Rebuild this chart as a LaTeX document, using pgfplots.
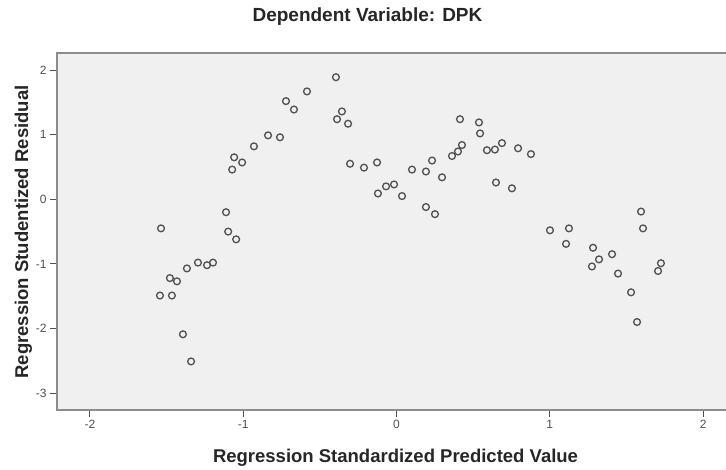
\documentclass[border=0pt]{standalone}
\usepackage{pgfplots}
\pgfplotsset{compat=1.18}
\usepackage{fontspec}
\setmainfont{Liberation Sans}
\definecolor{bg}{RGB}{240,240,240}
\definecolor{frame}{RGB}{140,140,140}
\definecolor{mk}{RGB}{80,80,80}
\definecolor{tk}{RGB}{80,80,80}
\begin{document}
\begin{tikzpicture}
\begin{axis}[
  scale only axis, width=671pt, height=357pt,
  xmin=-2.2146, xmax=2.1624, ymin=-3.262, ymax=2.265,
  axis background/.style={fill=bg},
  axis line style={draw=frame, line width=2.2pt},
  xtick={-2,-1,0,1,2}, ytick={-3,-2,-1,0,1,2},
  xtick pos=bottom, ytick pos=left,
  tick align=outside, major tick length=7pt,
  tick style={draw=tk, line width=1pt},
  tick label style={font=\fontsize{12}{14}\selectfont, text=tk},
  /pgf/number format/assume math mode=true,
  title={Dependent Variable: DPK},
  title style={at={(axis description cs:0.4627,1.070)}, anchor=base, font=\bfseries\fontsize{19}{22}\selectfont, text=black!85},
  xlabel={Regression Standardized Predicted Value},
  xlabel style={at={(axis description cs:0.5045,-0.1457)}, anchor=base, font=\bfseries\fontsize{18.5}{22}\selectfont, text=black!85},
  ylabel={Regression Studentized Residual},
  ylabel style={at={(axis description cs:-0.0432,0.4986)}, anchor=base, font=\bfseries\fontsize{18.5}{22}\selectfont, text=black!85},
]
\addplot[only marks, mark=o, mark size=3.4pt, mark options={draw=mk, line width=1.3pt}] table {
x y
-1.536 -0.45
-1.543 -1.49
-1.465 -1.49
-1.478 -1.22
-1.432 -1.27
-1.367 -1.07
-1.295 -0.98
-1.236 -1.02
-1.197 -0.98
-1.393 -2.09
-1.340 -2.51
-1.112 -0.20
-1.098 -0.50
-1.046 -0.62
-1.059 0.65
-1.072 0.46
-1.007 0.57
-0.930 0.82
-0.838 0.99
-0.760 0.96
-0.721 1.52
-0.669 1.39
-0.584 1.67
-0.395 1.89
-0.356 1.36
-0.388 1.24
-0.316 1.17
-0.303 0.55
-0.212 0.49
-0.127 0.57
-0.121 0.09
-0.068 0.20
-0.016 0.23
0.036 0.05
0.101 0.46
0.192 0.43
0.232 0.60
0.297 0.34
0.192 -0.12
0.251 -0.23
0.362 0.67
0.401 0.74
0.427 0.84
0.414 1.24
0.538 1.19
0.545 1.02
0.590 0.76
0.642 0.77
0.688 0.87
0.793 0.79
0.877 0.70
0.649 0.26
0.753 0.17
1.001 -0.48
1.125 -0.45
1.106 -0.69
1.595 -0.19
1.608 -0.45
1.282 -0.75
1.321 -0.93
1.275 -1.04
1.406 -0.85
1.445 -1.15
1.530 -1.44
1.569 -1.90
1.725 -0.99
1.706 -1.11
};
\end{axis}
\pgfresetboundingbox
\path ([shift={(-57pt,-60pt)}]current axis.south west) rectangle ([shift={(669pt,410pt)}]current axis.south west);
\end{tikzpicture}
\end{document}
